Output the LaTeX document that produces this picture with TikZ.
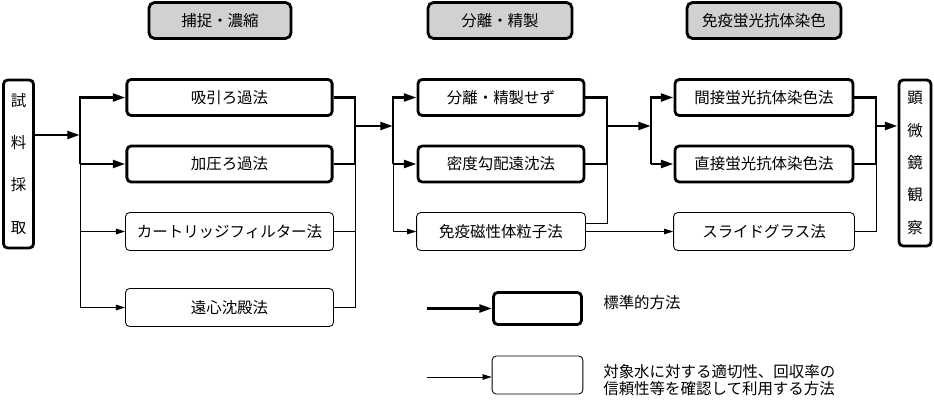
\documentclass[tikz,border=0pt]{standalone}
\usepackage{fontspec}
\setmainfont{Noto Sans CJK JP}
\usetikzlibrary{arrows.meta}

\tikzset{
    stdbox/.style={draw, line width=2pt, rounded corners=3pt, fill=white,
        minimum height=0.9cm, inner sep=0pt, font=\fontsize{11}{13}\selectfont},
    optbox/.style={draw, line width=0.6pt, rounded corners=3pt, fill=white,
        minimum height=0.95cm, inner sep=0pt, font=\fontsize{11}{13}\selectfont},
    headbox/.style={stdbox, fill=black!18, rounded corners=4pt},
    mainline/.style={line width=2pt},
    subline/.style={line width=0.6pt},
    bigtip/.style={-{Triangle[length=9pt,width=5.5pt]}},
    smalltip/.style={-{Triangle[length=6.5pt,width=4pt]}},
    legendtext/.style={anchor=west, align=left, inner sep=0pt,
        font=\fontsize{11}{12.5}\selectfont}
}

\begin{document}
\begin{tikzpicture}[x=0.025cm, y=-0.025cm]

    % --- Frame (pixel grid of the figure) ---
    \useasboundingbox (0,0) rectangle (934,413);

    % --- Column bus positions ---
    \def\BusY{126}

    % --- Headers ---
    \node[headbox, minimum width=3.55cm] (hcap)   at (220,20.5) {捕捉・濃縮};
    \node[headbox, minimum width=3.6cm]  (hsep)   at (500,20.5) {分離・精製};
    \node[headbox, minimum width=3.85cm] (hstain) at (764,20.5) {免疫蛍光抗体染色};

    % --- Start and end ---
    \node[stdbox, minimum width=0.75cm, minimum height=4.2cm,
          align=center, font=\fontsize{11}{30}\selectfont] (sample) at (18.5,164)
          {試\\料\\採\\取};
    \node[stdbox, minimum width=0.8cm, minimum height=4.15cm,
          align=center, font=\fontsize{11}{23}\selectfont] (micro) at (915,163)
          {顕\\微\\鏡\\観\\察};

    % --- Capture / concentration ---
    \node[stdbox, minimum width=5.13cm] (suction)    at (229.5,97.5)  {吸引ろ過法};
    \node[stdbox, minimum width=5.13cm] (pressure)   at (229.5,164)   {加圧ろ過法};
    \node[optbox, minimum width=5.2cm]  (cartridge)  at (229.5,231.5) {カートリッジフィルター法};
    \node[optbox, minimum width=5.2cm]  (centrifuge) at (229.5,307.5) {遠心沈殿法};

    % --- Separation / purification ---
    \node[stdbox, minimum width=4.15cm] (nosep)   at (501,97.5)  {分離・精製せず};
    \node[stdbox, minimum width=4.15cm] (density) at (501,164)   {密度勾配遠沈法};
    \node[optbox, minimum width=4.22cm] (immag)   at (501,231.5) {免疫磁性体粒子法};

    % --- Staining ---
    \node[stdbox, minimum width=4.45cm] (indirect) at (764,97.5) {間接蛍光抗体染色法};
    \node[stdbox, minimum width=4.45cm] (direct)   at (764,164)  {直接蛍光抗体染色法};
    \node[optbox, minimum width=4.52cm] (slide)    at (764,231.5) {スライドグラス法};

    % --- Bus junctions ---
    \coordinate (j1) at (80,135);
    \coordinate (k1) at (355,\BusY);
    \coordinate (j2) at (393,\BusY);
    \coordinate (k2) at (607,\BusY);
    \coordinate (j3) at (651,\BusY);
    \coordinate (k3) at (876,\BusY);

    % sample -> capture
    \draw[mainline, bigtip] (sample.east |- j1) -- (j1);
    \draw[mainline, bigtip] (j1 |- pressure) -- (j1 |- suction) -- (suction);
    \draw[mainline, bigtip] (j1 |- pressure) -- (pressure);
    \draw[subline] (j1 |- pressure) -- (j1 |- centrifuge);
    \draw[subline, smalltip] (j1 |- cartridge) -- (cartridge);
    \draw[subline, smalltip] (j1 |- centrifuge) -- (centrifuge);

    % capture -> separation
    \draw[mainline] (suction.east) -| (k1 |- pressure) -- (pressure.east);
    \draw[subline] (k1 |- pressure) |- (centrifuge.east);
    \draw[subline] (cartridge.east) -- (k1 |- cartridge);
    \draw[mainline, bigtip] (k1) -- (j2);
    \draw[mainline, bigtip] (j2 |- density) -- (j2 |- nosep) -- (nosep);
    \draw[mainline, bigtip] (j2 |- density) -- (density);
    \draw[subline, smalltip] (j2 |- density) |- (immag);

    % separation -> staining
    \draw[mainline] (nosep.east) -| (k2 |- density) -- (density.east);
    \draw[subline] (k2 |- density) |- ([yshift=0.2cm]immag.east);
    \draw[subline, smalltip] (immag) -- (slide);
    \draw[mainline, bigtip] (k2) -- (j3);
    \draw[mainline, bigtip] (j3 |- direct) -- (j3 |- indirect) -- (indirect);
    \draw[mainline, bigtip] (j3 |- direct) -- (direct);

    % staining -> microscopy
    \draw[mainline] (indirect.east) -| (k3 |- direct) -- (direct.east);
    \draw[subline] (k3 |- direct) |- (slide.east);
    \draw[mainline, bigtip] (k3) -- (k3 -| micro.west);

    % --- Legend ---
    \node[stdbox, minimum width=2.2cm, minimum height=0.8cm] (lstd) at (537.5,308.5) {};
    \node[optbox, minimum width=2.27cm] (lopt) at (537.5,375) {};
    \coordinate (lstdin) at (427,308.5);
    \coordinate (loptin) at (427,377);
    \draw[mainline, bigtip] (lstdin) -- (lstdin -| lstd.west);
    \draw[subline, smalltip] (loptin) -- (loptin -| lopt.west);
    \node[legendtext] (lstdtext) at (603,303) {標準的方法};
    \node[legendtext] (lopttext) at (603,380)
        {対象水に対する適切性、回収率の\\信頼性等を確認して利用する方法};

\end{tikzpicture}
\end{document}
